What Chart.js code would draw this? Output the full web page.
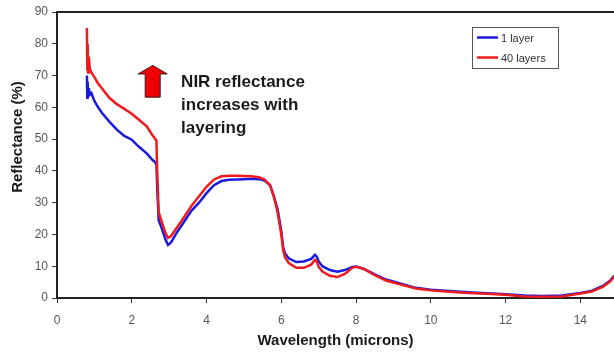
<!DOCTYPE html>
<html lang="en">
    <head>
        <meta charset="UTF-8">
        <title>Reflectance vs wavelength</title>
        <script src="https://cdn.jsdelivr.net/npm/chart.js"></script>
        <style>
            html,
            body {
                margin: 0;
                padding: 0;
                background: #fff;
            }
            #chartBox {
                width: 614px;
                height: 352px;
            }
        </style>
    </head>
    <body>
        <div id="chartBox">
            <canvas id="reflChart" width="614" height="352"></canvas>
        </div>

        <script>
            // wavelength in microns, shared by both spectra
            const wavelength = [
                0.80, 0.81, 0.82, 0.83, 0.85, 0.88, 0.92, 1.0, 1.1, 1.2,
                1.4, 1.6, 1.8, 2.0, 2.2, 2.4, 2.55, 2.62, 2.66, 2.68,
                2.72, 2.8, 2.9, 2.97, 3.05, 3.2, 3.4, 3.6, 3.8, 4.0,
                4.2, 4.4, 4.6, 4.8, 5.0, 5.2, 5.4, 5.55, 5.7, 5.8,
                5.9, 6.0, 6.05, 6.1, 6.2, 6.4, 6.6, 6.8, 6.9, 6.95,
                7.0, 7.1, 7.3, 7.5, 7.7, 7.9, 8.0, 8.2, 8.5, 8.8,
                9.2, 9.6, 10.0, 10.5, 11.0, 11.5, 12.0, 12.5, 13.0, 13.5,
                14.0, 14.3, 14.6, 14.8, 14.9
            ];

            // reflectance (%) for a single layer
            const oneLayer = [
                70, 63, 68, 64, 66, 64, 64.5, 62, 60, 58.3,
                55.5, 53, 51, 49.8, 47.5, 45.5, 43.5, 42.8, 42, 35,
                24.5, 22, 18.5, 16.7, 17.5, 20.5, 24, 27.5, 30, 33,
                35.5, 36.8, 37.2, 37.3, 37.4, 37.5, 37.4, 37, 35.5, 32,
                28, 21, 16, 14, 12.5, 11.3, 11.5, 12.3, 13.6, 13,
                11.5, 10, 8.8, 8.3, 8.8, 9.8, 9.9, 9.2, 7.4, 5.8,
                4.5, 3.2, 2.6, 2.2, 1.8, 1.5, 1.2, 0.8, 0.6, 0.8,
                1.6, 2.2, 3.8, 5.5, 7
            ];

            // reflectance (%) for 40 stacked layers
            const fortyLayers = [
                85, 72, 80, 71, 76, 72, 71, 69.5, 67.5, 66,
                63, 61, 59.5, 58, 56, 54, 51.3, 50.2, 49.5, 40,
                27, 24, 20.5, 18.9, 19.5, 22, 25.5, 29, 32, 35,
                37.3, 38.3, 38.5, 38.5, 38.4, 38.3, 38, 37.3, 35.5, 32,
                27, 20, 15, 12.8, 11, 9.5, 9.5, 10.5, 12, 11.5,
                9.8, 8.3, 7, 6.6, 7.6, 9.5, 9.8, 9.2, 7.2, 5.5,
                4.2, 3, 2.4, 2, 1.6, 1.3, 1.0, 0.5, 0.4, 0.5,
                1.4, 2, 3.5, 5.2, 6.8
            ];

            const seriesNames = ['1 layer', '40 layers'];
            const seriesColors = ['#1a1adf', '#ee1c1c'];
            const xTicks = [0, 2, 4, 6, 8, 10, 12, 14];
            const noteLines = ['NIR reflectance', 'increases with', 'layering'];

            const FONT = "'Liberation Sans', Arial, sans-serif";

            const toPoints = vals => vals.map((v, i) => ({x: wavelength[i], y: v}));

            // frame line along the top, legend box, arrow note, y title
            const extras = {
                id: 'extras',
                afterDraw(chart) {
                    const {ctx, chartArea, scales} = chart;
                    const xs = scales.x;
                    const ys = scales.y;
                    ctx.save();

                    // top frame
                    ctx.strokeStyle = '#222';
                    ctx.lineWidth = 2;
                    ctx.beginPath();
                    ctx.moveTo(chartArea.left, chartArea.top);
                    ctx.lineTo(chartArea.right, chartArea.top);
                    ctx.stroke();

                    // legend
                    ctx.lineWidth = 1;
                    ctx.strokeStyle = '#555';
                    ctx.strokeRect(472.5, 27.5, 86, 41);
                    ctx.font = '11px ' + FONT;
                    ctx.textBaseline = 'middle';
                    ctx.fillStyle = '#333';
                    seriesNames.forEach((name, i) => {
                        const y = 37.5 + i * 20;
                        ctx.strokeStyle = seriesColors[i];
                        ctx.lineWidth = 2.5;
                        ctx.beginPath();
                        ctx.moveTo(477, y);
                        ctx.lineTo(498, y);
                        ctx.stroke();
                        ctx.fillText(name, 501, y + 1);
                    });

                    // block arrow pointing up: short wide head, square shaft
                    const ax = xs.getPixelForValue(2.56);
                    const tip = ys.getPixelForValue(73.2);
                    const base = ys.getPixelForValue(70.5);
                    const bottom = ys.getPixelForValue(63.2);
                    ctx.fillStyle = '#f00000';
                    ctx.strokeStyle = '#3a1a1a';
                    ctx.lineWidth = 1;
                    ctx.beginPath();
                    ctx.moveTo(ax, tip);
                    ctx.lineTo(ax + 14.5, base);
                    ctx.lineTo(ax + 7.5, base);
                    ctx.lineTo(ax + 7.5, bottom);
                    ctx.lineTo(ax - 7.5, bottom);
                    ctx.lineTo(ax - 7.5, base);
                    ctx.lineTo(ax - 14.5, base);
                    ctx.closePath();
                    ctx.fill();
                    ctx.stroke();

                    // note text
                    ctx.fillStyle = '#1a1a1a';
                    ctx.font = 'bold 17px ' + FONT;
                    ctx.textBaseline = 'middle';
                    ctx.textAlign = 'left';
                    const nx = xs.getPixelForValue(3.32);
                    noteLines.forEach((line, i) => {
                        ctx.fillText(line, nx, ys.getPixelForValue(67.8) + i * 23);
                    });

                    // y axis title
                    ctx.save();
                    ctx.translate(18, 137);
                    ctx.rotate(-Math.PI / 2);
                    ctx.font = 'bold 15px ' + FONT;
                    ctx.textAlign = 'center';
                    ctx.fillStyle = '#1a1a1a';
                    ctx.fillText('Reflectance (%)', 0, 0);
                    ctx.restore();

                    ctx.restore();
                }
            };

            new Chart(document.getElementById('reflChart'), {
                type: 'line',
                data: {
                    datasets: [
                        {
                            label: seriesNames[1],
                            data: toPoints(fortyLayers),
                            borderColor: seriesColors[1],
                            borderWidth: 2.5,
                            order: 0
                        },
                        {
                            label: seriesNames[0],
                            data: toPoints(oneLayer),
                            borderColor: seriesColors[0],
                            borderWidth: 2.5,
                            order: 1
                        }
                    ]
                },
                options: {
                    responsive: false,
                    animation: false,
                    layout: {
                        padding: {left: 0, right: 0, top: 12, bottom: 0}
                    },
                    elements: {
                        point: {radius: 0},
                        line: {tension: 0, fill: false}
                    },
                    plugins: {
                        legend: {display: false},
                        tooltip: {enabled: false}
                    },
                    scales: {
                        x: {
                            type: 'linear',
                            min: 0,
                            max: 14.9,
                            afterBuildTicks: scale => {
                                scale.ticks = xTicks.map(v => ({value: v}));
                            },
                            afterFit: scale => {
                                scale.height = 54;
                            },
                            ticks: {
                                font: {family: FONT, size: 12},
                                color: '#555',
                                padding: 10,
                                maxRotation: 0
                            },
                            grid: {
                                drawOnChartArea: false,
                                tickLength: 5,
                                color: '#333'
                            },
                            border: {color: '#222', width: 2},
                            title: {
                                display: true,
                                text: 'Wavelength (microns)',
                                font: {family: FONT, size: 15, weight: 'bold'},
                                color: '#1a1a1a',
                                padding: {top: 0, bottom: 2}
                            }
                        },
                        y: {
                            min: 0,
                            max: 90,
                            afterFit: scale => {
                                scale.width = 57;
                            },
                            ticks: {
                                stepSize: 10,
                                font: {family: FONT, size: 12},
                                color: '#555',
                                padding: 4
                            },
                            grid: {
                                drawOnChartArea: false,
                                tickLength: 5,
                                color: '#333'
                            },
                            border: {color: '#222', width: 2}
                        }
                    }
                },
                plugins: [extras]
            });
        </script>
    </body>
</html>
